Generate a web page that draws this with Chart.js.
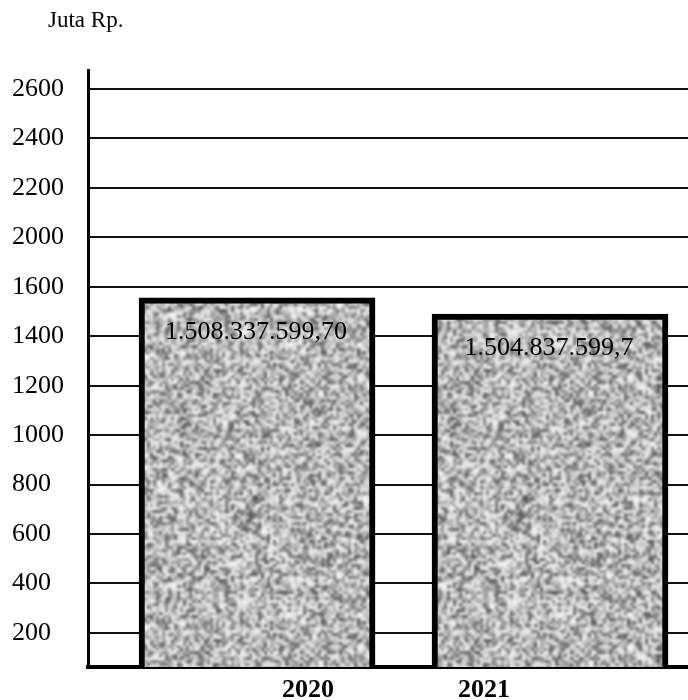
<!DOCTYPE html>
<html>
<head>
<meta charset="utf-8">
<script src="https://cdn.jsdelivr.net/npm/chart.js@4/dist/chart.umd.min.js"></script>
<style>
  html, body { margin: 0; padding: 0; background: #fff; }
  canvas { display: block; }
</style>
</head>
<body>
<canvas id="chart" width="688" height="700"></canvas>
<script>
// data (bar heights as drawn, labels as printed)
const years = [2020, 2021];
const barValues = [1555, 1490];
const valueLabels = ['1.508.337.599,70', '1.504.837.599,7'];
const tickValues = [200, 400, 600, 800, 1000, 1200, 1400, 1600, 1800, 2000, 2200, 2400];
const tickLabels = ['200', '400', '600', '800', '1000', '1200', '1400', '1600', '2000', '2200', '2400', '2600'];
const unitLabel = 'Juta Rp.';

const SERIF = '"Liberation Serif", "Times New Roman", serif';
const yearShift = [51, -66]; // the printed years sit off-centre under the bars

// grey speckle like the scanned fill (seamless tile)
function speckle() {
  const n = 90, N = n * 3;
  const small = document.createElement('canvas');
  small.width = small.height = n;
  const sctx = small.getContext('2d');
  const img = sctx.createImageData(n, n);
  for (let j = 0; j < n; j++) {
    for (let i = 0; i < n; i++) {
      const h = Math.sin(i * 12.9898 + j * 78.233) * 43758.5453;
      const f = h - Math.floor(h);
      const g = Math.round(245 - Math.pow(f, 1.6) * 165);
      const k = (j * n + i) * 4;
      img.data[k] = img.data[k + 1] = img.data[k + 2] = g;
      img.data[k + 3] = 255;
    }
  }
  sctx.putImageData(img, 0, 0);
  const wide = document.createElement('canvas');
  wide.width = wide.height = N * 3;
  const wctx = wide.getContext('2d');
  wctx.imageSmoothingEnabled = true;
  for (let a = 0; a < 3; a++) {
    for (let b = 0; b < 3; b++) wctx.drawImage(small, a * N, b * N, N, N);
  }
  const tile = document.createElement('canvas');
  tile.width = tile.height = N;
  const tctx = tile.getContext('2d');
  tctx.filter = 'blur(1.2px)';
  tctx.drawImage(wide, -N, -N);
  return tctx.createPattern(tile, 'repeat');
}

const textPlugin = {
  id: 'texts',
  afterDatasetsDraw(chart) {
    const ctx = chart.ctx;
    const meta = chart.getDatasetMeta(0);
    ctx.save();
    ctx.fillStyle = '#000';
    ctx.textAlign = 'center';
    ctx.textBaseline = 'alphabetic';
    ctx.font = '26px ' + SERIF;
    meta.data.forEach((bar, i) => {
      ctx.fillText(valueLabels[i], bar.x - 1, bar.y + 41);
    });
    ctx.font = 'bold 26px ' + SERIF;
    const xs = chart.scales.x;
    years.forEach((yr, i) => {
      ctx.fillText(String(yr), xs.getPixelForValue(yr) + yearShift[i], 697);
    });
    ctx.textAlign = 'left';
    ctx.font = '23px ' + SERIF;
    ctx.fillText(unitLabel, 48, 27);
    ctx.restore();
  }
};

new Chart(document.getElementById('chart'), {
  type: 'bar',
  data: {
    labels: years,
    datasets: [{
      data: barValues,
      backgroundColor: speckle(),
      borderColor: '#000',
      borderWidth: 6,
      borderSkipped: false,
      barThickness: 236
    }]
  },
  options: {
    responsive: false,
    animation: false,
    layout: { padding: { top: 70, left: 12, right: 0, bottom: 0 } },
    plugins: { legend: { display: false }, tooltip: { enabled: false } },
    scales: {
      x: {
        type: 'linear',
        min: 2019.423,
        max: 2021.471,
        offset: false,
        grid: { display: false },
        border: { display: true, color: '#000', width: 4 },
        ticks: { display: false },
        afterFit: s => { s.height = 33; }
      },
      y: {
        min: 62,
        max: 2477,
        afterBuildTicks: s => { s.ticks = tickValues.map(v => ({ value: v })); },
        afterFit: s => { s.width = 76; },
        grid: { color: '#111', lineWidth: 2, drawTicks: false },
        border: { display: true, color: '#000', width: 3 },
        ticks: {
          crossAlign: 'far',
          color: '#000',
          font: { family: SERIF, size: 26 },
          callback: (v, i) => tickLabels[i]
        }
      }
    }
  },
  plugins: [textPlugin]
});
</script>
</body>
</html>
